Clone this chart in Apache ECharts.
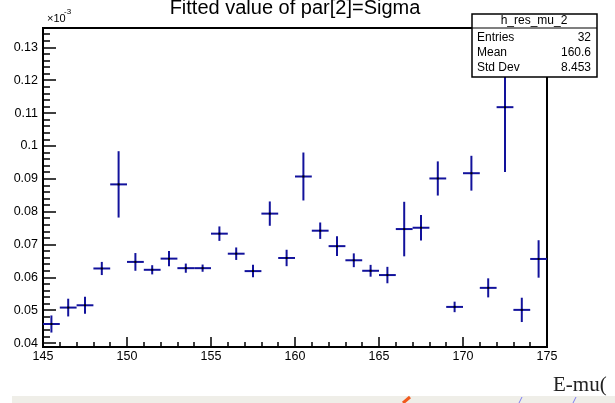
<!DOCTYPE html>
<html>
<head>
<meta charset="utf-8">
<script src="https://cdn.jsdelivr.net/npm/echarts@6/dist/echarts.min.js"></script>
<style>
html,body{margin:0;padding:0;background:#fff;}
#chart{width:615px;height:403px;}
</style>
</head>
<body>
<div id="chart"></div>
<script>
// ---- data (y values shown in units of 1e-3, as on the axis) ----
const binCenters = [145.5,146.5,147.5,148.5,149.5,150.5,151.5,152.5,153.5,154.5,
                    155.5,156.5,157.5,158.5,159.5,160.5,161.5,162.5,163.5,164.5,
                    165.5,166.5,167.5,168.5,169.5,170.5,171.5,172.5,173.5,174.5];
const binWidth = 1;
const values = [0.0458,0.0508,0.0515,0.0627,0.0883,0.0647,0.0623,0.0657,0.0628,0.0628,
                0.0733,0.0672,0.0619,0.0794,0.0659,0.0907,0.0742,0.0695,0.0652,0.0620,
                0.0607,0.0747,0.0751,0.0901,0.0510,0.0917,0.0568,0.1118,0.0501,0.0656];
const errors = [0.0026,0.0027,0.0026,0.0020,0.0101,0.0027,0.0014,0.0023,0.0014,0.0011,
                0.0022,0.0019,0.0019,0.0037,0.0025,0.0073,0.0025,0.0030,0.0021,0.0018,
                0.0025,0.0083,0.0039,0.0052,0.0016,0.0053,0.0029,0.0197,0.0037,0.0057];
const xRange = [145, 175];
const yRange = [0.0388, 0.1359];
const titleText = 'Fitted value of par[2]=Sigma';
const statsName = 'h_res_mu_2';
const statsRows = [['Entries','32'],['Mean','160.6'],['Std Dev','8.453']];

const FONT = "'Liberation Sans', Arial, Helvetica, sans-serif";
const BLUE = '#12129c';

const data = binCenters.map((c, i) => [c, values[i], errors[i]]);

const chart = echarts.init(document.getElementById('chart'), null, {renderer: 'canvas'});

const statsGraphics = [
  {type:'rect', shape:{x:472, y:14, width:125, height:63}, style:{fill:'#fff', stroke:'#000', lineWidth:1.5}, z:100},
  {type:'line', shape:{x1:472, y1:28, x2:597, y2:28}, style:{stroke:'#000', lineWidth:1.2}, z:101},
  {type:'text', x:534, y:21, style:{text:statsName, font:'12px ' + FONT, fill:'#000', align:'center', verticalAlign:'middle'}, z:101}
];
statsRows.forEach((r, i) => {
  const yy = 38 + i * 15;
  statsGraphics.push({type:'text', x:477, y:yy, style:{text:r[0], font:'12px ' + FONT, fill:'#000', align:'left', verticalAlign:'middle'}, z:101});
  statsGraphics.push({type:'text', x:591, y:yy, style:{text:r[1], font:'12px ' + FONT, fill:'#000', align:'right', verticalAlign:'middle'}, z:101});
});

chart.setOption({
  animation: false,
  backgroundColor: '#fff',
  grid: {left: 43, right: 68, top: 28, bottom: 56, show: true, borderColor: '#000', borderWidth: 2, backgroundColor: 'transparent'},
  xAxis: {
    type: 'value', min: xRange[0], max: xRange[1], interval: 5,
    axisLine: {show: true, onZero: false, lineStyle: {color: '#000', width: 2}},
    axisTick: {show: true, inside: true, length: 10, lineStyle: {color: '#000', width: 1.5}},
    minorTick: {show: true, splitNumber: 5, length: 5, lineStyle: {color: '#000', width: 1.5}},
    axisLabel: {color: '#000', fontFamily: FONT, fontSize: 12.5, margin: 3},
    splitLine: {show: false}
  },
  yAxis: [{
    type: 'value', min: yRange[0], max: yRange[1], splitNumber: 10,
    axisLine: {show: true, onZero: false, lineStyle: {color: '#000', width: 2}},
    axisTick: {show: true, inside: true, length: 13, lineStyle: {color: '#000', width: 1.5}},
    axisLabel: {color: '#000', fontFamily: FONT, fontSize: 12.5, margin: 5, showMinLabel: false, showMaxLabel: false,
                formatter: v => String(+v.toFixed(4))},
    splitLine: {show: false}
  }, {
    type: 'value', min: yRange[0], max: yRange[1], splitNumber: 48, position: 'left',
    axisLine: {show: false},
    axisTick: {show: true, inside: true, length: 7, lineStyle: {color: '#000', width: 1.5}},
    axisLabel: {show: false},
    splitLine: {show: false}
  }],
  graphic: [
    {type:'text', x:295, y:8, style:{text:titleText, font:'20px ' + FONT, fill:'#000', align:'center', verticalAlign:'middle'}, z:100},
    {type:'text', x:47, y:19, style:{text:'\u00d710', font:'11px ' + FONT, fill:'#000', align:'left', verticalAlign:'middle'}, z:100},
    {type:'text', x:64, y:12, style:{text:'-3', font:'8px ' + FONT, fill:'#000', align:'left', verticalAlign:'middle'}, z:100},
    {type:'text', x:553, y:385, style:{text:'E-mu(', font:"21px 'Liberation Serif', 'Times New Roman', serif", fill:'#222', align:'left', verticalAlign:'middle'}, z:100},
    {type:'rect', shape:{x:12, y:396, width:603, height:7}, style:{fill:'#efeee8'}, z:99},
    {type:'line', shape:{x1:403, y1:403, x2:410, y2:397}, style:{stroke:'#f05a1e', lineWidth:3}, z:100},
    {type:'line', shape:{x1:519, y1:403, x2:522, y2:397}, style:{stroke:'#7c7cf0', lineWidth:1}, z:100},
    {type:'line', shape:{x1:573, y1:403, x2:576, y2:397}, style:{stroke:'#7c7cf0', lineWidth:1}, z:100}
  ].concat(statsGraphics),
  series: [{
    type: 'custom',
    xAxisIndex: 0, yAxisIndex: 0,
    encode: {x: 0, y: 1},
    clip: false,
    data: data,
    renderItem: function (params, api) {
      const x = api.value(0), y = api.value(1), e = api.value(2);
      const hw = binWidth / 2;
      const pL = api.coord([x - hw, y]);
      const pR = api.coord([x + hw, y]);
      const pT = api.coord([x, y + e]);
      const pB = api.coord([x, y - e]);
      return {
        type: 'group',
        children: [
          {type:'line', shape:{x1:pL[0], y1:pL[1], x2:pR[0], y2:pR[1]}, style:{stroke:BLUE, lineWidth:2}},
          {type:'line', shape:{x1:pT[0], y1:pT[1], x2:pB[0], y2:pB[1]}, style:{stroke:BLUE, lineWidth:2}},
          {type:'rect', shape:{x:pL[0] + (pR[0]-pL[0])/2 - 1, y:pL[1] - 1, width:2, height:2}, style:{fill:'#000'}}
        ]
      };
    }
  }]
});
</script>
</body>
</html>
